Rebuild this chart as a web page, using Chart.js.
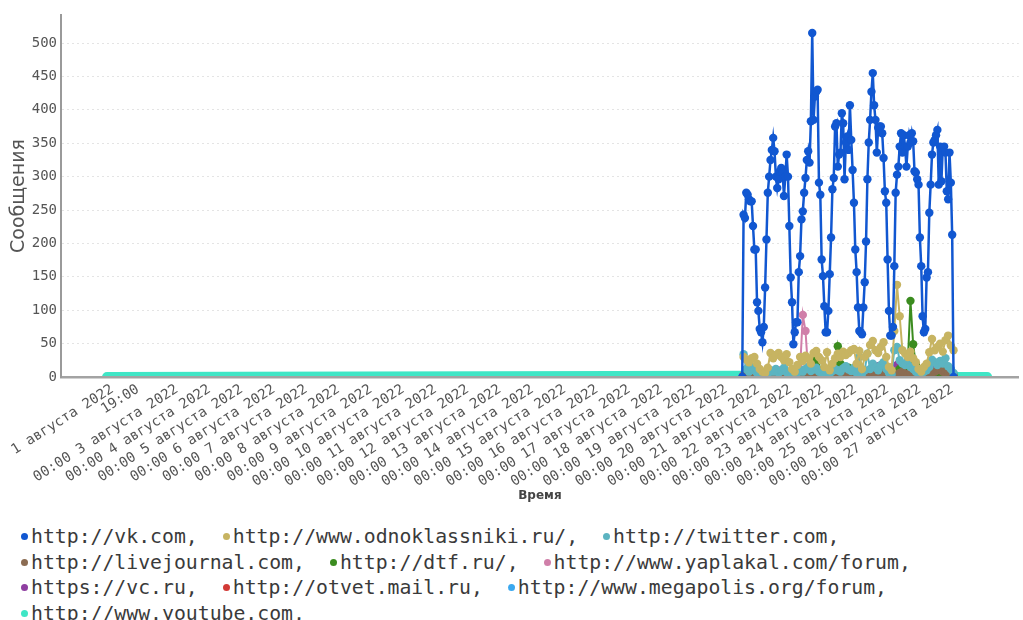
<!DOCTYPE html>
<html>
<head>
<meta charset="utf-8">
<script src="https://cdn.jsdelivr.net/npm/chart.js@4.4.1/dist/chart.umd.min.js"></script>
<style>
  html, body { margin: 0; padding: 0; background: #fff; }
  #wrap { position: relative; width: 1023px; height: 620px; overflow: hidden; }
  #legend { position: absolute; left: 21px; top: 524px; width: 1000px;
            font-family: 'DejaVu Sans Mono', monospace; font-size: 19.8px; line-height: 25.5px; color: #3a3a3a; }
  .item { display: inline-block; white-space: nowrap; margin-right: 25px; }
  .dot { display: inline-block; width: 7px; height: 7px; border-radius: 50%; margin-right: 3px; vertical-align: middle; position: relative; top: -1px; }
</style>
</head>
<body>
<div id="wrap">
  <canvas id="c" width="1023" height="510"></canvas>
  <div id="legend"></div>
</div>
<script>
// ---- Data (hours counted from 1 августа 2022 00:00) ----
const seriesNames = ['http://vk.com', 'http://www.odnoklassniki.ru/', 'http://twitter.com',
  'http://livejournal.com', 'http://dtf.ru/', 'http://www.yaplakal.com/forum',
  'https://vc.ru', 'http://otvet.mail.ru', 'http://www.megapolis.org/forum', 'http://www.youtube.com'];
const seriesColors = ['#1157d1', '#c7b462', '#5cb4c1', '#8b6c52', '#3b8c1f', '#d07fa9',
  '#8f3fa1', '#d23a36', '#3aa8ef', '#3fe6c6'];

const tickHours = [0, 19, 48, 72, 96, 120, 144, 168, 192, 216, 240, 264, 288, 312, 336, 360,
  384, 408, 432, 456, 480, 504, 528, 552, 576, 600, 624];
const tickLabels = ['1 августа 2022', '19:00', '00:00 3 августа 2022', '00:00 4 августа 2022',
  '00:00 5 августа 2022', '00:00 6 августа 2022', '00:00 7 августа 2022', '00:00 8 августа 2022',
  '00:00 9 августа 2022', '00:00 10 августа 2022', '00:00 11 августа 2022', '00:00 12 августа 2022',
  '00:00 13 августа 2022', '00:00 14 августа 2022', '00:00 15 августа 2022', '00:00 16 августа 2022',
  '00:00 17 августа 2022', '00:00 18 августа 2022', '00:00 19 августа 2022', '00:00 20 августа 2022',
  '00:00 21 августа 2022', '00:00 22 августа 2022', '00:00 23 августа 2022', '00:00 24 августа 2022',
  '00:00 25 августа 2022', '00:00 26 августа 2022', '00:00 27 августа 2022'];
const yTicks = [0, 50, 100, 150, 200, 250, 300, 350, 400, 450, 500];

const xMin = -38.2, xMax = 673.5, yMax = 542;

// vk: hourly from hour 468
const vkStart = 468;
const vkValues = [0,
  243,238,276,273,266,263,263,226,191,191,112,99,72,67,52,
  75,134,206,276,300,325,340,358,
  338,300,283,296,308,313,306,271,300,333,300,226,149,112,49,
  67,82,82,157,181,236,248,276,298,325,338,321,383,515,
  385,420,427,430,291,273,176,151,106,67,67,99,154,209,281,298,375,380,315,333,336,395,380,296,351,360,340,407,
  355,310,261,191,157,104,69,67,64,104,142,203,296,351,385,427,455,
  407,385,336,373,375,
  375,365,328,278,261,176,99,62,62,75,166,276,303,315,345,365,336,362,345,315,345,362,351,365,353,308,306,296,288,209,166,91,67,72,149,157,246,288,333,351,355,362,370,288,345,293,343,345,336,278,266,336,291,213,0];

// other sites: every 2 hours from hour 469
const minorStart = 469;
const odnoklassniki = [30,26,22,28,30,20,12,8,6,14, 36,28,33,36,30,25,34,22,12,8,
  18,30,24,32,28,20,36,39,30,25, 15,37,10,20,28,35,30,38,33,36,
  40,42,20,39,12,30,35,48,54,40, 36,45,52,30,15,10,69,138,91,40,
  35,30,38,28,22,12,8,15,20,37, 57,40,45,50,38,55,62,47,40];
const twitter = [34,12,8,15,10,6,4,3,2,5, 10,8,12,6,9,14,7,5,3,2,
  6,10,8,12,15,9,11,14,8,6, 3,4,5,9,12,10,8,13,16,11,
  9,14,6,30,5,10,35,12,20,14, 10,18,22,12,6,4,40,45,25,20,
  18,25,15,12,8,5,4,8,10,15, 26,22,18,24,20,28,16,12,6];
const livejournal = [1,2,3,5,2,1,0,0,1,2, 4,6,3,8,5,4,6,3,1,0,
  2,4,6,5,8,3,5,4,2,1, 0,1,3,5,8,6,4,3,5,7,
  4,3,2,1,0,2,5,6,8,4, 10,6,4,3,1,0,2,4,6,8,
  5,3,6,4,8,3,1,0,2,4, 6,8,10,12,8,6,5,4,2];
const dtf = [2,0,3,5,2,0,0,1,0,2, 4,3,6,2,5,3,4,1,0,0,
  2,5,8,10,6,12,24,18,10,5, 2,3,6,8,15,46,20,12,8,14,
  10,6,4,3,2,1,5,8,6,4, 10,7,5,3,2,1,4,8,12,10,
  15,20,114,49,18,12,6,3,2,1, 3,5,8,10,6,12,8,5,3];
const yaplakal = [3,2,5,4,2,1,0,1,0,2, 6,4,8,10,5,3,6,4,2,1,
  5,12,93,69,8,5,10,6,4,3, 2,1,0,3,5,8,6,4,7,10,
  5,3,2,1,4,6,8,5,3,10, 12,6,4,2,1,0,5,8,10,6,
  4,8,12,6,3,2,1,0,3,5, 8,6,10,12,8,5,6,4,2];
const vc = [2,1,3,4,2,1,0,0,1,3, 5,4,6,8,5,3,4,2,1,0,
  2,5,8,10,6,4,5,8,6,3, 1,0,2,4,6,10,12,8,14,10,
  8,5,3,2,1,3,6,10,14,12, 16,10,8,5,2,1,4,18,20,15,
  12,10,14,8,4,2,1,0,3,6, 8,12,10,14,8,6,4,3,1];
const otvet = [3,5,18,8,4,2,1,0,1,2, 4,3,5,6,3,4,5,2,1,0,
  1,3,4,6,3,5,2,4,3,1, 0,1,2,4,3,5,6,4,3,5,
  4,2,1,0,1,2,4,3,5,6, 4,3,2,1,0,1,3,5,4,6,
  3,5,4,2,1,0,1,2,4,5, 3,6,4,5,3,2,1,0,1];
const megapolis = [0,1,0,2,1,0,0,0,0,1, 2,1,0,1,2,1,0,1,0,0,
  1,2,1,0,1,2,1,0,1,0, 0,0,1,2,1,0,1,2,1,0,
  1,2,1,0,0,0,1,2,1,0, 1,2,1,0,0,0,1,2,3,1,
  0,1,2,1,0,0,0,1,2,1, 0,1,2,1,0,1,0,3,5];
const youtube = [2,0,3,1,0,2,0,0,1,0, 3,1,0,4,2,0,1,0,0,0,
  2,0,3,1,5,0,2,0,1,0, 0,0,2,1,0,3,0,2,1,0,
  2,0,1,3,0,0,2,0,4,1, 0,2,1,0,0,0,3,0,2,1,
  0,3,1,0,2,0,0,0,1,2, 0,3,1,0,2,0,1,0,0];
// youtube is present over the whole period at zero
const youtubeFirstHour = -4, youtubeLastHour = 650, youtubeEdgeValue = 0;

// ---- Build datasets ----
const minorSeries = [odnoklassniki, twitter, livejournal, dtf, yaplakal, vc, otvet, megapolis];
const toMinor = arr => arr.map((v, i) => ({x: minorStart + 2 * i, y: v}));
const clipArea = {left: 8, top: 8, right: 8, bottom: -1};

const datasets = [];
datasets.push({
  label: seriesNames[0], data: vkValues.map((v, i) => ({x: vkStart + i, y: v})),
  borderColor: seriesColors[0], backgroundColor: seriesColors[0], borderWidth: 2.5,
  pointRadius: 4.2, pointBorderWidth: 0, pointBackgroundColor: seriesColors[0], clip: clipArea
});
minorSeries.forEach((arr, k) => {
  const c = seriesColors[k + 1];
  datasets.push({
    label: seriesNames[k + 1], data: toMinor(arr),
    borderColor: c, backgroundColor: c, borderWidth: 2,
    pointRadius: 4.2, pointBorderWidth: 0, pointBackgroundColor: c, clip: clipArea
  });
});
datasets.push({
  label: seriesNames[9],
  data: [{x: youtubeFirstHour, y: youtubeEdgeValue}].concat(toMinor(youtube), [{x: youtubeLastHour, y: youtubeEdgeValue}]),
  borderColor: seriesColors[9], backgroundColor: seriesColors[9], borderWidth: 10,
  borderCapStyle: 'round', borderJoinStyle: 'round',
  pointRadius: 0, clip: clipArea
});

const monoFont = {family: "'DejaVu Sans Mono', monospace", size: 14};

new Chart(document.getElementById('c'), {
  type: 'line',
  data: {datasets},
  options: {
    responsive: false,
    animation: false,
    layout: {padding: {left: 0, right: 3, top: 15, bottom: 0}},
    plugins: {legend: {display: false}, tooltip: {enabled: false}},
    elements: {line: {tension: 0}},
    scales: {
      x: {
        type: 'linear', min: xMin, max: xMax,
        afterBuildTicks: s => { s.ticks = tickHours.map(v => ({value: v})); },
        afterFit: s => { s.height = 133; },
        grid: {display: false, drawTicks: false},
        border: {display: true, color: '#a3a3a3', width: 2.5},
        ticks: {autoSkip: false, minRotation: 32.5, maxRotation: 32.5, padding: 4,
                font: monoFont, color: '#555', callback: (v, i) => tickLabels[i]},
        title: {display: true, text: 'Время', color: '#444',
                font: {family: "'DejaVu Sans', sans-serif", size: 12, weight: 'bold'},
                padding: {top: 0, bottom: 7}}
      },
      y: {
        min: 0, max: yMax,
        afterBuildTicks: s => { s.ticks = yTicks.map(v => ({value: v})); },
        afterFit: s => { s.width = 61; },
        grid: {color: '#e4e4e4', drawTicks: false, lineWidth: 1},
        border: {display: true, color: '#9a9a9a', width: 2, dash: [2, 3]},
        ticks: {padding: 4, font: monoFont, color: '#555'},
        title: {display: true, text: 'Сообщения', color: '#555',
                font: {family: "'DejaVu Sans', sans-serif", size: 19},
                padding: {top: 8, bottom: 0}}
      }
    }
  }
});

// ---- HTML legend ----
const legend = document.getElementById('legend');
seriesNames.forEach((name, i) => {
  const item = document.createElement('span');
  item.className = 'item';
  const dot = document.createElement('span');
  dot.className = 'dot';
  dot.style.background = seriesColors[i];
  item.appendChild(dot);
  item.appendChild(document.createTextNode(name + ','));
  legend.appendChild(item);
});
</script>
</body>
</html>
